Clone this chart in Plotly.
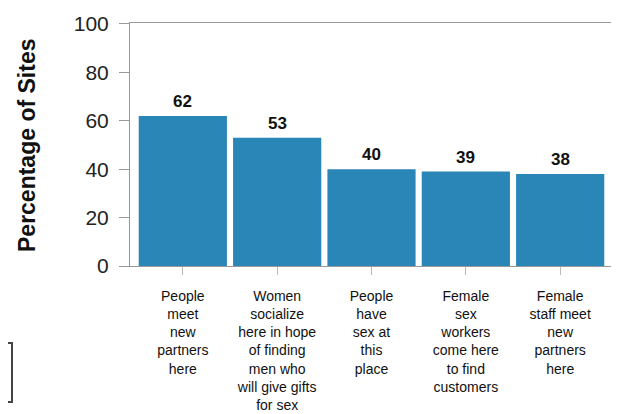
import plotly.graph_objects as go

categories = [
    "People<br>meet<br>new<br>partners<br>here",
    "Women<br>socialize<br>here in hope<br>of finding<br>men who<br>will give gifts<br>for sex",
    "People<br>have<br>sex at<br>this<br>place",
    "Female<br>sex<br>workers<br>come here<br>to find<br>customers",
    "Female<br>staff meet<br>new<br>partners<br>here",
]
values = [62, 53, 40, 39, 38]
y_ticks = [0, 20, 40, 60, 80, 100]
y_title = "Percentage of Sites"

FONT = "Liberation Sans, Arial, Helvetica, sans-serif"
BAR = "#2a86b6"
OFF = 8  # browser body margin
W, H = 619 - OFF, 414 - OFF
L, R, T, B = 130 - OFF, 6, 23 - OFF, 414 - 266
pw = W - L - R
ph = H - T - B


def px(xp):  # page pixel x -> paper
    return (xp - OFF - L) / pw


def py(yp):  # page pixel y -> paper
    return (H - B - (yp - OFF)) / ph


fig = go.Figure()
fig.add_trace(go.Bar(
    x=list(range(len(values))), y=values,
    marker=dict(color=BAR, line=dict(width=0)),
    hoverinfo="skip",
))

for i, v in enumerate(values):
    fig.add_annotation(x=i, y=v, text=f"<b>{v}</b>", showarrow=False,
                       yanchor="bottom", yshift=3,
                       font=dict(family=FONT, size=17, color="#111"))

fig.add_annotation(xref="paper", yref="paper",
                   x=px(27), y=py(146),
                   text=f"<b>{y_title}</b>", textangle=-90, showarrow=False,
                   xanchor="center", yanchor="middle",
                   font=dict(family=FONT, size=23, color="#111"))

# leftover box at left edge
fig.add_shape(type="rect", xref="paper", yref="paper",
              x0=px(-4), x1=px(12), y0=py(402), y1=py(343),
              line=dict(color="#444", width=2), fillcolor="white", layer="above")

fig.update_layout(
    width=W, height=H,
    margin=dict(l=L, r=R, t=T, b=B, pad=0, autoexpand=False),
    paper_bgcolor="white", plot_bgcolor="white",
    bargap=0.065,
    showlegend=False,
    font=dict(family=FONT, color="#111"),
    xaxis=dict(
        tickmode="array", tickvals=list(range(len(values))), ticktext=categories,
        range=[-0.56, 4.56], automargin=False,
        showline=True, mirror=True, linecolor="#999", linewidth=1,
        ticks="outside", ticklen=8, tickcolor="#bbb",
        ticklabelstandoff=9,
        tickfont=dict(family=FONT, size=14, color="#111"),
        tickangle=0, showgrid=False, zeroline=False,
    ),
    yaxis=dict(
        range=[0, 100.4], tickvals=y_ticks, automargin=False,
        showline=True, mirror=True, linecolor="#999", linewidth=1,
        ticks="outside", ticklen=10, tickcolor="#999",
        ticklabelstandoff=6,
        tickfont=dict(family=FONT, size=21, color="#222"),
        showgrid=False, zeroline=False,
    ),
)

fig.write_html("out.html")
